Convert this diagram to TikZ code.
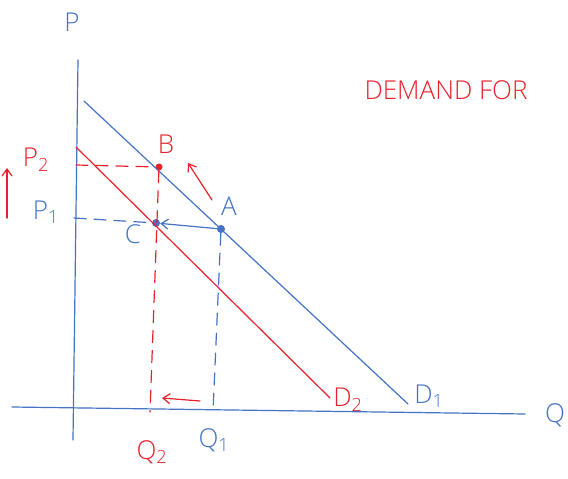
\documentclass[tikz,border=0pt]{standalone}
\usepackage{fontspec}
\setmainfont{Open Sans Light}
\usetikzlibrary{arrows.meta}
\definecolor{pblue}{HTML}{4472C4}
\definecolor{pred}{HTML}{E8202A}
\begin{document}
\begin{tikzpicture}[x=1pt,y=-1pt,
  bl/.style={draw=pblue, line width=1.2pt, line cap=round},
  rd/.style={draw=pred, line width=1.2pt, line cap=round},
  dsh/.style={dash pattern=on 12pt off 8pt},
  lab/.style={font=\fontsize{26}{30}\selectfont, inner sep=0pt},
  dot/.style={circle, inner sep=0pt, minimum size=8pt},
  arr/.style={-{Straight Barb[length=7pt,width=10pt]}}]
\useasboundingbox (0,0) rectangle (568,479);
% points
\node[dot, fill=pblue] (A) at (221,229) {};
\node[dot, fill=pred, minimum size=7pt] (B) at (159,167) {};
\node[dot, fill=pblue] (C) at (156,223) {};
% axes
\coordinate (ytop) at (78,60);
\coordinate (ybot) at (73,440);
\coordinate (xl) at (12,407);
\coordinate (xr) at (525,414);
\draw[bl] (ytop) -- (ybot);
\draw[bl] (xl) -- (xr);
% demand curves
\coordinate (d1a) at (84,101);
\coordinate (d1b) at (408,404);
\coordinate (d2a) at (76,147);
\coordinate (d2b) at (330,398);
\draw[bl] (d1a) -- (d1b);
\draw[rd] (d2a) -- (d2b);
% dashed guides
\coordinate (p1) at (74,218);
\coordinate (p2) at (76,165);
\coordinate (q2) at (150,412);
\coordinate (q1) at (213,412);
\draw[bl, dsh] (p1) -- (C);
\draw[rd, dsh] (p2) -- (B);
\draw[rd, dsh] (B) -- (q2);
\draw[bl, dsh] (A) -- (q1);
% arrows
\coordinate (a1s) at (212,200);
\coordinate (a1e) at (188,163);
\draw[rd, arr] (a1s) -- (a1e);
\draw[bl, arr] (A) -- (C);
\coordinate (a2s) at (200,401);
\coordinate (a2e) at (162,398);
\draw[rd, arr] (a2s) -- (a2e);
\coordinate (a3s) at (7,218);
\coordinate (a3e) at (7,168);
\draw[rd, arr] (a3s) -- (a3e);
% labels
\node[lab, text=pblue] (lP) at (72,22) {P};
\node[lab, text=pblue] (lQ) at (555,415) {Q};
\node[lab, text=pred] (lP2) at (36,160) {P\textsubscript{2}};
\node[lab, text=pblue] (lP1) at (46,212) {P\textsubscript{1}};
\node[lab, text=pred] (lB) at (166,144) {B};
\node[lab, text=pblue] (lA) at (229,206) {A};
\node[lab, text=pblue] (lC) at (133,234) {C};
\node[lab, text=pblue] (lD1) at (429,396) {D\textsubscript{1}};
\node[lab, text=pred] (lD2) at (348,400) {D\textsubscript{2}};
\node[lab, text=pred] (lQ2) at (152,452) {Q\textsubscript{2}};
\node[lab, text=pblue] (lQ1) at (214,440) {Q\textsubscript{1}};
\node[lab, text=pred] (ltitle) at (446,90) {DEMAND FOR};
\end{tikzpicture}
\end{document}
